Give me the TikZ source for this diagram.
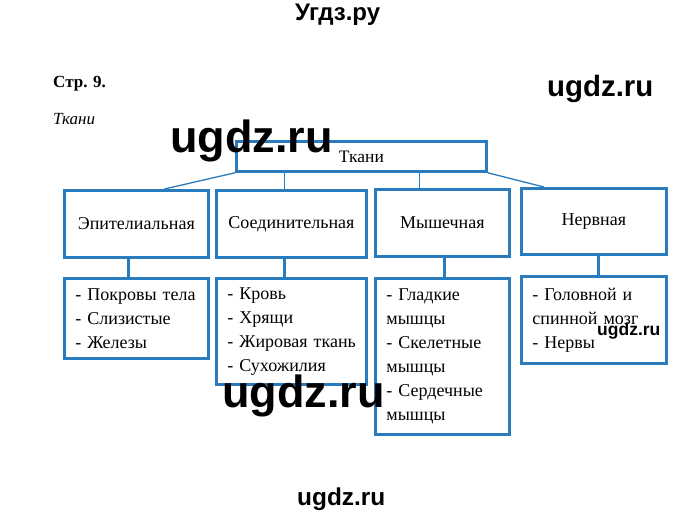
\documentclass[tikz,border=0pt]{standalone}
\usepackage{fontspec}
\setmainfont{Liberation Serif}
\newfontfamily\wmfont{Liberation Sans}
\usepackage{tikz}
\usetikzlibrary{positioning,calc}
\definecolor{boxblue}{RGB}{42,122,190}
\tikzset{
  % рамка второго уровня
  box/.style={
    draw=boxblue,
    line width=2.8pt,
    anchor=north west,
    inner sep=0pt,
    font=\fontsize{18}{24}\selectfont
  },
  % рамка со списком
  listbox/.style={
    box,
    align=left,
    inner xsep=11pt
  },
  % тонкие и толстые линии
  thinlink/.style={boxblue, line width=1.3pt},
  thicklink/.style={boxblue, line width=3pt},
  % надписи сайта
  wm/.style={font=\wmfont\bfseries\fontsize{#1}{#1}\selectfont, inner sep=0pt, anchor=base west},
  title/.style={inner sep=0pt, anchor=base west},
}
\begin{document}
\begin{tikzpicture}[x=1pt, y=-1pt]
  \fill[white] (0,0) rectangle (680,516);
  \useasboundingbox (0,0) rectangle (680,516);

  % Заголовки
  \node[title, font=\fontsize{17}{20}\selectfont\bfseries] (page) at (53,88) {Стр. 9.};
  \node[title, font=\fontsize{17}{20}\selectfont\itshape] (theme) at (53,125) {Ткани};

  % Верхний блок
  \node[box, minimum width=250pt, minimum height=30pt, font=\fontsize{17.5}{20}\selectfont] (top) at (235,140) {Ткани};

  % Виды тканей
  \node[box, minimum width=144pt, minimum height=67pt] (epi) at (63,189) {Эпителиальная};
  \node[box, minimum width=150pt, minimum height=67pt] (soed) at (215,189) {Соединительная};
  \node[box, minimum width=134pt, minimum height=67pt] (mysh) at (374,188) {Мышечная};
  \node[box, minimum width=145pt, minimum height=66pt] (nerv) at (520,187) {Нервная};

  % Списки
  \node[listbox, text width=122pt, minimum height=80pt] (list1) at (63,277)
    {\mbox{- Покровы тела}\\\mbox{- Слизистые}\\\mbox{- Железы}};
  \node[listbox, text width=128pt, minimum height=106pt] (list2) at (215,277)
    {\mbox{- Кровь}\\\mbox{- Хрящи}\\\mbox{- Жировая ткань}\\\mbox{- Сухожилия}};
  \node[listbox, text width=112pt, minimum height=156pt] (list3) at (374,277)
    {\mbox{- Гладкие}\\мышцы\\\mbox{- Скелетные}\\мышцы\\\mbox{- Сердечные}\\мышцы};
  \node[listbox, text width=123pt, minimum height=87pt] (list4) at (520,275)
    {\mbox{- Головной и}\\\mbox{спинной мозг}\\\mbox{- Нервы}};

  % Связи сверху
  \draw[thinlink] (top.south west) -- ([xshift=28pt]epi.north);
  \draw[thinlink] ([xshift=-7pt]soed.north) -- ([xshift=-7pt]soed.north |- top.south);
  \draw[thinlink] ([xshift=-23pt]mysh.north) -- ([xshift=-23pt]mysh.north |- top.south);
  \draw[thinlink] (top.south east) -- ([xshift=-50pt]nerv.north);

  % Связи вниз
  \draw[thicklink] ([xshift=-8pt]epi.south) -- ([xshift=-8pt]epi.south |- list1.north);
  \draw[thicklink] ([xshift=-7pt]soed.south) -- ([xshift=-7pt]soed.south |- list2.north);
  \draw[thicklink] ([xshift=2pt]mysh.south) -- ([xshift=2pt]mysh.south |- list3.north);
  \draw[thicklink] ([xshift=4.5pt]nerv.south) -- ([xshift=4.5pt]nerv.south |- list4.north);

  % Надписи сайта
  \node[wm=24] (site) at (295,21) {Угдз.ру};
  \node[wm=29.4] (wm1) at (547,97) {ugdz.ru};
  \node[wm=45] (wm2) at (170,153) {ugdz.ru};
  \node[wm=45] (wm3) at (222,407) {ugdz.ru};
  \node[wm=17.5] (wm4) at (597,335) {ugdz.ru};
  \node[wm=24.4] (wm5) at (297,505) {ugdz.ru};
\end{tikzpicture}
\end{document}
